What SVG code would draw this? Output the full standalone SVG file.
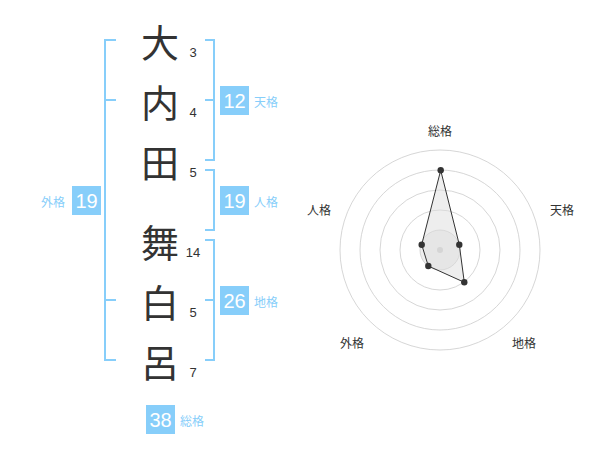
<svg xmlns="http://www.w3.org/2000/svg" width="600" height="470" viewBox="0 0 600 470">
<style>
.ch{font-family:"Noto Sans CJK JP","Noto Sans",sans-serif;font-size:38px;fill:#333;text-anchor:middle;dominant-baseline:central}
.num{font-family:"Liberation Sans",Arial,sans-serif;font-size:13px;fill:#333;text-anchor:middle}
.br{fill:none;stroke:#87CEFA;stroke-width:2}
.box{fill:#87CEFA}
.bv{font-family:"Liberation Sans",Arial,sans-serif;font-size:20px;fill:#fff;text-anchor:middle;dominant-baseline:central}
.bl{font-family:"Noto Sans CJK JP",sans-serif;font-size:12px;fill:#87CEFA;dominant-baseline:central}
.rl{font-family:"Noto Sans CJK JP",sans-serif;font-size:12px;fill:#333;text-anchor:middle;dominant-baseline:central}
.ring{fill:none;stroke:#ccc;stroke-width:0.8}
.pt{fill:#333}
</style>
<rect width="600" height="470" fill="#fff"/>
<g id="name-chars">
<g id="c1"><text class="ch" x="160" y="40">大</text><text class="num" x="193" y="57">3</text></g>
<g id="c2"><text class="ch" x="160" y="100">内</text><text class="num" x="193" y="117">4</text></g>
<g id="c3"><text class="ch" x="160" y="160">田</text><text class="num" x="193" y="177">5</text></g>
<g id="c4"><text class="ch" x="160" y="240">舞</text><text class="num" x="193" y="257">14</text></g>
<g id="c5"><text class="ch" x="160" y="300">白</text><text class="num" x="193" y="317">5</text></g>
<g id="c6"><text class="ch" x="160" y="360">呂</text><text class="num" x="193" y="377">7</text></g>
</g>
<g id="connectors">
<path class="br" d="M116,40 H105 V360 H116 M105,100 H116 M105,300 H116"/>
<path class="br" d="M205,40 H214 V160 H205 M205,100 H214"/>
<path class="br" d="M205,170 H214 V230 H205"/>
<path class="br" d="M205,240 H214 V360 H205 M205,300 H214"/>
</g>
<g id="tenkaku"><rect class="box" x="220" y="86" width="29" height="29"/><text class="bv" x="234.5" y="100.5">12</text><text class="bl" x="254" y="101">天格</text></g>
<g id="jinkaku"><rect class="box" x="220" y="186" width="29" height="29"/><text class="bv" x="234.5" y="200.5">19</text><text class="bl" x="254" y="201">人格</text></g>
<g id="chikaku"><rect class="box" x="220" y="286" width="29" height="29"/><text class="bv" x="234.5" y="300.5">26</text><text class="bl" x="254" y="301">地格</text></g>
<g id="gaikaku"><rect class="box" x="72" y="186" width="29" height="29"/><text class="bv" x="86.5" y="200.5">19</text><text class="bl" x="41" y="201">外格</text></g>
<g id="soukaku"><rect class="box" x="146" y="405" width="29" height="29"/><text class="bv" x="160.5" y="419.5">38</text><text class="bl" x="180" y="420">総格</text></g>
<g id="radar">
<circle cx="440" cy="250" r="20" fill="#eee" stroke="#ccc" stroke-width="0.8"/>
<circle class="ring" cx="440" cy="250" r="40"/>
<circle class="ring" cx="440" cy="250" r="60"/>
<circle class="ring" cx="440" cy="250" r="80"/>
<circle class="ring" cx="440" cy="250" r="100"/>
<circle cx="440" cy="250" r="3" fill="#ccc"/>
<polygon points="440.7,170.3 459.3,244.7 464.3,282.3 428.3,266 421.7,244.7" fill="#ddd" fill-opacity="0.5" stroke="#333" stroke-width="1"/>
<circle class="pt" cx="440.7" cy="170.3" r="3.2"/>
<circle class="pt" cx="459.3" cy="244.7" r="3.2"/>
<circle class="pt" cx="464.3" cy="282.3" r="3.2"/>
<circle class="pt" cx="428.3" cy="266" r="3.2"/>
<circle class="pt" cx="421.7" cy="244.7" r="3.2"/>
<text class="rl" x="440" y="130">総格</text>
<text class="rl" x="562" y="209">天格</text>
<text class="rl" x="524" y="342">地格</text>
<text class="rl" x="352" y="342">外格</text>
<text class="rl" x="319" y="209">人格</text>
</g>
</svg>
